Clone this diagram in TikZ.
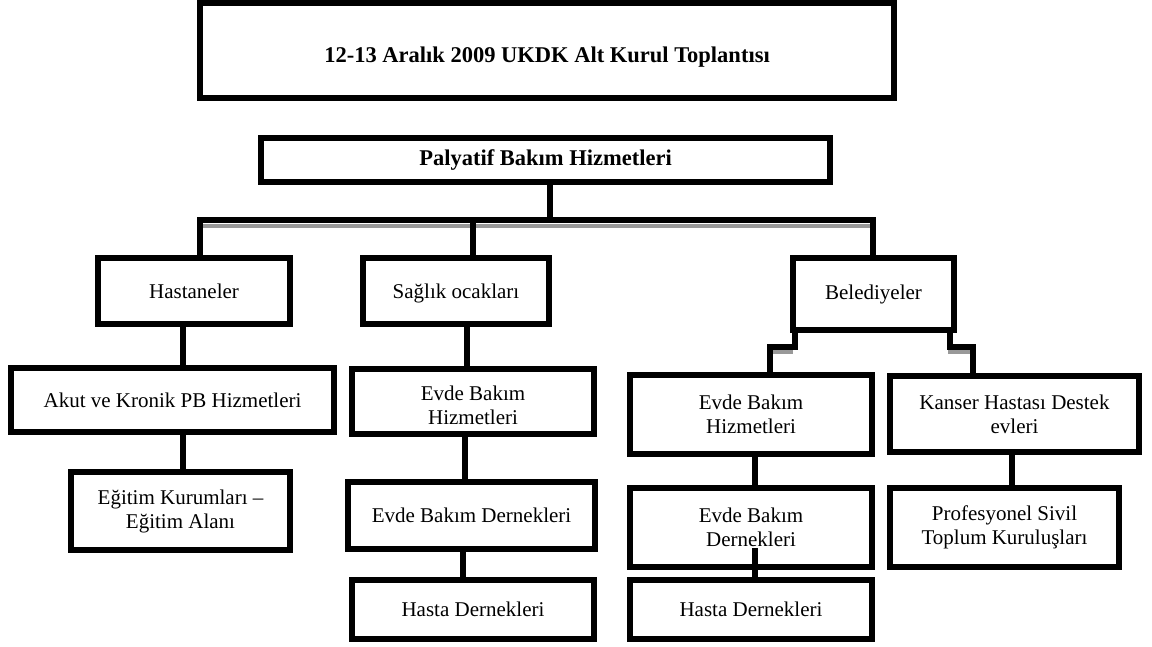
\documentclass[tikz,border=0pt]{standalone}
\usepackage{fontspec}
\setmainfont{Liberation Serif}
\begin{document}
\begin{tikzpicture}[x=1pt,y=-1pt,
  box/.style={draw=black, line width=5.5pt, rectangle, inner sep=0pt, align=center,
              font=\fontsize{21}{24}\selectfont},
  boldbox/.style={box, font=\fontsize{22.5}{26}\selectfont\bfseries},
  label/.style={inner sep=0pt, align=center, font=\fontsize{21}{24}\selectfont},
  boldlabel/.style={label, font=\fontsize{22.5}{26}\selectfont\bfseries},
  conn/.style={draw=black, line width=5.5pt},
  shadow/.style={draw=black!40, line width=4pt}]
\useasboundingbox (0,0) rectangle (1152,646);

% nodes
\node[boldbox, minimum width=694pt, minimum height=95pt] (title) at (547,50.5) {};
\node[boldlabel] (titlet) at (547,57) {12-13 Aralık 2009 UKDK Alt Kurul Toplantısı};
\node[boldbox, minimum width=569pt, minimum height=44pt] (pal) at (545.5,160) {Palyatif Bakım Hizmetleri};

\node[box, minimum width=192pt, minimum height=66pt] (has) at (194,291) {Hastaneler};
\node[box, minimum width=186pt, minimum height=66pt, text depth=0pt] (sag) at (456,291) {Sağlık ocakları};
\node[box, minimum width=161pt, minimum height=72pt] (bel) at (873.5,294) {Belediyeler};

\node[box, minimum width=323pt, minimum height=64pt] (akut) at (172.5,400) {Akut ve Kronik PB Hizmetleri};
\node[box, minimum width=219pt, minimum height=78pt] (egit) at (180.5,511) {Eğitim Kurumları –\\Eğitim Alanı};

\node[box, minimum width=242pt, minimum height=65pt] (ebhA) at (473,401.5) {};
\node[label] (ebhAt) at (473,405) {Evde Bakım\\Hizmetleri};
\node[box, minimum width=247pt, minimum height=67pt] (ebdA) at (471.5,515.5) {Evde Bakım Dernekleri};
\node[box, minimum width=242pt, minimum height=59pt] (hdA) at (473,609.5) {Hasta Dernekleri};

\node[box, minimum width=242pt, minimum height=79pt] (ebhB) at (751,414.5) {Evde Bakım\\Hizmetleri};
\node[box, minimum width=242pt, minimum height=79pt] (ebdB) at (751,527.5) {Evde Bakım\\Dernekleri};
\node[box, minimum width=242pt, minimum height=59pt] (hdB) at (751,609.5) {Hasta Dernekleri};

\node[box, minimum width=249pt, minimum height=76pt] (kan) at (1014.5,414) {Kanser Hastası Destek\\evleri};
\node[box, minimum width=229pt, minimum height=79pt] (prof) at (1004.5,527.5) {Profesyonel Sivil\\Toplum Kuruluşları};

% helper coordinates
\coordinate (busL) at (200,220);
\coordinate (busR) at (873,220);
\coordinate (busP) at (550,220);
\coordinate (busS) at (473,220);
\coordinate (colH) at (183,0);
\coordinate (colS1) at (467,0);
\coordinate (colS2) at (465,0);
\coordinate (colS3) at (463,0);
\coordinate (colB) at (755,0);
\coordinate (colK) at (1012,0);
\coordinate (stepL1) at (795,347);
\coordinate (stepL2) at (770,347);
\coordinate (stepR1) at (950,347);
\coordinate (stepR2) at (973,347);
\coordinate (innerB) at (755,548);

% shadows
\draw[shadow] (203,225.5) -- (870,225.5);
\draw[shadow] (772,352) -- (793,352);
\draw[shadow] (948,352) -- (971,352);

% connectors
\draw[conn] (pal.south -| busP) -- (busP);
\draw[conn] (has.north -| busL) -- (busL) -- (busR) -- (bel.north -| busR);
\draw[conn] (busS) -- (sag.north -| busS);
\draw[conn] (has.south -| colH) -- (akut.north -| colH);
\draw[conn] (akut.south -| colH) -- (egit.north -| colH);
\draw[conn] (sag.south -| colS1) -- (ebhA.north -| colS1);
\draw[conn] (ebhA.south -| colS2) -- (ebdA.north -| colS2);
\draw[conn] (ebdA.south -| colS3) -- (hdA.north -| colS3);
\draw[conn] (bel.south -| stepL1) -- (stepL1) -- (stepL2) -- (ebhB.north -| stepL2);
\draw[conn] (bel.south -| stepR1) -- (stepR1) -- (stepR2) -- (kan.north -| stepR2);
\draw[conn] (ebhB.south -| colB) -- (ebdB.north -| colB);
\draw[conn] (innerB) -- (hdB.north -| colB);
\draw[conn] (kan.south -| colK) -- (prof.north -| colK);
\end{tikzpicture}
\end{document}
